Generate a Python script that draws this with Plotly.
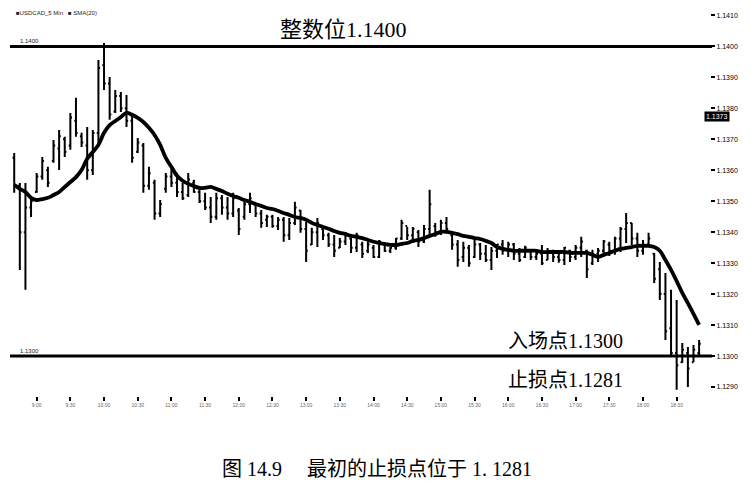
import plotly.graph_objects as go

# 5分钟K线，每根K线一组 开/高/低/收
opens = [1.1364, 1.1355, 1.1340, 1.1348, 1.1353, 1.1358, 1.1360, 1.1363, 1.1367, 1.1370,
         1.1368, 1.1376, 1.1371, 1.1368, 1.1360, 1.1372, 1.1394, 1.1388, 1.1379, 1.1384,
         1.1380, 1.1376, 1.1366, 1.1368, 1.1355, 1.1356, 1.1346, 1.1354, 1.1358, 1.1356,
         1.1353, 1.1352, 1.1356, 1.1353, 1.1350, 1.1348, 1.1345, 1.1351, 1.1348, 1.1346,
         1.1347, 1.1345, 1.1349, 1.1349, 1.1346, 1.1344, 1.1345, 1.1342, 1.1344, 1.1339,
         1.1343, 1.1347, 1.1341, 1.1336, 1.1340, 1.1341, 1.1339, 1.1336, 1.1335, 1.1337,
         1.1338, 1.1335, 1.1336, 1.1334, 1.1335, 1.1332, 1.1336, 1.1334, 1.1335, 1.1338,
         1.1342, 1.1339, 1.1340, 1.1337, 1.1341, 1.1342, 1.1340, 1.1343, 1.1339, 1.1336,
         1.1332, 1.1335, 1.1332, 1.1336, 1.1333, 1.1331, 1.1334, 1.1336, 1.1334, 1.1336,
         1.1333, 1.1332, 1.1334, 1.1332, 1.1333, 1.1331, 1.1334, 1.1332, 1.1331, 1.1334,
         1.1332, 1.1335, 1.1334, 1.1330, 1.1333, 1.1334, 1.1336, 1.1334, 1.1338, 1.1341,
         1.1343, 1.1338, 1.1334, 1.1336, 1.1333, 1.1328, 1.1320, 1.1309, 1.1301, 1.1298,
         1.1301, 1.1298, 1.1301]
highs = [1.13656, 1.13559, 1.13559, 1.13514, 1.13591, 1.13643, 1.13611, 1.13698, 1.13730, 1.13708,
         1.13785, 1.13834, 1.13721, 1.13740, 1.13730, 1.13956, 1.14011, 1.13901, 1.13859, 1.13853,
         1.13843, 1.13785, 1.13704, 1.13688, 1.13611, 1.13569, 1.13504, 1.13591, 1.13611, 1.13591,
         1.13559, 1.13591, 1.13569, 1.13546, 1.13527, 1.13514, 1.13527, 1.13520, 1.13514, 1.13527,
         1.13478, 1.13504, 1.13527, 1.13494, 1.13472, 1.13456, 1.13456, 1.13449, 1.13449, 1.13446,
         1.13498, 1.13472, 1.13433, 1.13414, 1.13446, 1.13414, 1.13398, 1.13391, 1.13381, 1.13401,
         1.13381, 1.13398, 1.13369, 1.13369, 1.13359, 1.13375, 1.13362, 1.13352, 1.13381, 1.13440,
         1.13417, 1.13417, 1.13407, 1.13423, 1.13537, 1.13430, 1.13440, 1.13449, 1.13398, 1.13375,
         1.13369, 1.13359, 1.13375, 1.13365, 1.13359, 1.13352, 1.13362, 1.13375, 1.13369, 1.13365,
         1.13349, 1.13356, 1.13343, 1.13336, 1.13359, 1.13349, 1.13343, 1.13336, 1.13352, 1.13343,
         1.13359, 1.13385, 1.13343, 1.13343, 1.13349, 1.13375, 1.13369, 1.13385, 1.13417, 1.13462,
         1.13430, 1.13398, 1.13375, 1.13398, 1.13333, 1.13304, 1.13268, 1.13214, 1.13181, 1.13042,
         1.13029, 1.13036, 1.13052]
lows = [1.13527, 1.13278, 1.13214, 1.13449, 1.13527, 1.13569, 1.13546, 1.13624, 1.13601, 1.13643,
        1.13666, 1.13708, 1.13675, 1.13569, 1.13585, 1.13675, 1.13859, 1.13763, 1.13785, 1.13788,
        1.13740, 1.13624, 1.13656, 1.13527, 1.13537, 1.13440, 1.13449, 1.13527, 1.13546, 1.13514,
        1.13504, 1.13514, 1.13527, 1.13494, 1.13472, 1.13430, 1.13440, 1.13456, 1.13440, 1.13449,
        1.13391, 1.13440, 1.13462, 1.13449, 1.13414, 1.13417, 1.13414, 1.13407, 1.13369, 1.13375,
        1.13423, 1.13398, 1.13304, 1.13359, 1.13352, 1.13375, 1.13352, 1.13320, 1.13349, 1.13359,
        1.13333, 1.13336, 1.13317, 1.13333, 1.13317, 1.13317, 1.13336, 1.13333, 1.13343, 1.13375,
        1.13375, 1.13365, 1.13352, 1.13365, 1.13385, 1.13385, 1.13391, 1.13398, 1.13343, 1.13288,
        1.13304, 1.13288, 1.13317, 1.13310, 1.13304, 1.13278, 1.13317, 1.13327, 1.13320, 1.13310,
        1.13304, 1.13317, 1.13310, 1.13310, 1.13294, 1.13310, 1.13304, 1.13301, 1.13294, 1.13304,
        1.13310, 1.13320, 1.13252, 1.13294, 1.13304, 1.13320, 1.13323, 1.13327, 1.13336, 1.13365,
        1.13359, 1.13320, 1.13327, 1.13352, 1.13236, 1.13181, 1.13052, 1.12997, 1.12891, 1.12978,
        1.12900, 1.12981, 1.12997]
closes = [1.1355, 1.1340, 1.1348, 1.1350, 1.1358, 1.1363, 1.1356, 1.1368, 1.1371, 1.1366,
          1.1377, 1.1372, 1.1369, 1.1360, 1.1372, 1.1393, 1.1388, 1.1378, 1.1384, 1.1380,
          1.1376, 1.1364, 1.1369, 1.1355, 1.1359, 1.1346, 1.1349, 1.1358, 1.1356, 1.1353,
          1.1351, 1.1357, 1.1353, 1.1350, 1.1348, 1.1345, 1.1351, 1.1348, 1.1346, 1.1351,
          1.1341, 1.1349, 1.1351, 1.1346, 1.1343, 1.1345, 1.1342, 1.1344, 1.1339, 1.1343,
          1.1348, 1.1341, 1.1334, 1.1340, 1.1343, 1.1339, 1.1336, 1.1334, 1.1337, 1.1339,
          1.1335, 1.1339, 1.1333, 1.1336, 1.1332, 1.1337, 1.1334, 1.1335, 1.1338, 1.1343,
          1.1339, 1.1341, 1.1337, 1.1341, 1.1349, 1.1340, 1.1343, 1.1341, 1.1336, 1.1331,
          1.1335, 1.1330, 1.1336, 1.1333, 1.1331, 1.1334, 1.1336, 1.1334, 1.1336, 1.1333,
          1.1331, 1.1335, 1.1332, 1.1333, 1.1330, 1.1334, 1.1332, 1.1331, 1.1335, 1.1332,
          1.1335, 1.1337, 1.1328, 1.1333, 1.1334, 1.1337, 1.1334, 1.1338, 1.1341, 1.1343,
          1.1338, 1.1334, 1.1336, 1.1338, 1.1325, 1.1320, 1.1308, 1.1301, 1.1297, 1.1302,
          1.1296, 1.1302, 1.1304]
# SMA(20)
sma20 = [1.13553, 1.13540, 1.13530, 1.13511, 1.13504, 1.13507, 1.13511, 1.13520, 1.13530, 1.13546,
         1.13562, 1.13578, 1.13601, 1.13637, 1.13659, 1.13682, 1.13721, 1.13746, 1.13759, 1.13772,
         1.13785, 1.13779, 1.13769, 1.13756, 1.13737, 1.13714, 1.13682, 1.13640, 1.13611, 1.13582,
         1.13566, 1.13556, 1.13549, 1.13543, 1.13543, 1.13546, 1.13540, 1.13533, 1.13524, 1.13517,
         1.13511, 1.13504, 1.13498, 1.13491, 1.13485, 1.13478, 1.13475, 1.13469, 1.13462, 1.13456,
         1.13449, 1.13446, 1.13440, 1.13430, 1.13423, 1.13417, 1.13411, 1.13404, 1.13398, 1.13394,
         1.13388, 1.13385, 1.13381, 1.13375, 1.13369, 1.13365, 1.13362, 1.13359, 1.13359, 1.13362,
         1.13365, 1.13372, 1.13375, 1.13381, 1.13388, 1.13394, 1.13401, 1.13401, 1.13398, 1.13394,
         1.13388, 1.13385, 1.13381, 1.13378, 1.13372, 1.13365, 1.13352, 1.13346, 1.13343, 1.13340,
         1.13340, 1.13340, 1.13340, 1.13340, 1.13336, 1.13336, 1.13336, 1.13336, 1.13336, 1.13333,
         1.13333, 1.13333, 1.13333, 1.13327, 1.13320, 1.13327, 1.13333, 1.13340, 1.13346, 1.13349,
         1.13352, 1.13356, 1.13356, 1.13356, 1.13352, 1.13340, 1.13310, 1.13278, 1.13242, 1.13204,
         1.13171, 1.13136, 1.13101]
bars = list(range(len(closes)))

# 横轴时间刻度（原图字太小，看不清）
time_ticks = [4, 10, 16, 22, 28, 34, 40, 46, 52, 58, 64, 70, 76, 82, 88, 94, 100, 106, 112, 118]
time_labels = ["9:00", "9:30", "10:00", "10:30", "11:00", "11:30", "12:00", "12:30", "13:00", "13:30",
               "14:00", "14:30", "15:00", "15:30", "16:00", "16:30", "17:00", "17:30", "18:00", "18:30"]
price_ticks = [1.1290, 1.1300, 1.1310, 1.1320, 1.1330, 1.1340, 1.1350,
               1.1360, 1.1370, 1.1380, 1.1390, 1.1400, 1.1410]
round_level = 1.1400
entry_level = 1.1300
stop_level = 1.1281

cjk = "Liberation Serif, Noto Sans CJK SC"

fig = go.Figure()
fig.add_trace(go.Ohlc(x=bars, open=opens, high=highs, low=lows, close=closes,
                      increasing_line_color="black", decreasing_line_color="black",
                      line_width=2, tickwidth=0.3, showlegend=False, hoverinfo="skip"))
fig.add_trace(go.Scatter(x=bars, y=sma20, mode="lines", line=dict(color="black", width=3.8, shape="spline"),
                         showlegend=False, hoverinfo="skip"))

for lvl in [round_level, entry_level]:
    fig.add_shape(type="line", xref="paper", x0=0, x1=1.003, y0=lvl, y1=lvl,
                  line=dict(color="black", width=3))

fig.add_annotation(xref="paper", x=0.476, xanchor="center", y=round_level, yanchor="bottom", yshift=2,
                   text="整数位1.1400", showarrow=False, font=dict(family=cjk, size=22, color="black"))
fig.add_annotation(xref="paper", x=0.794, xanchor="center", y=entry_level, yanchor="bottom", yshift=2,
                   text="入场点1.1300", showarrow=False, font=dict(family=cjk, size=20, color="black"))
# 止损价位在坐标下限之外，文字放在入场线下方
fig.add_annotation(xref="paper", yref="paper", x=0.794, xanchor="center", y=0.041, yanchor="middle",
                   text=f"止损点{stop_level:.4f}", showarrow=False, font=dict(family=cjk, size=20, color="black"))

# 左上角图例、左侧价位小字、右侧当前价格框
fig.add_annotation(xref="paper", yref="paper", x=0.005, y=1.0, xanchor="left", yanchor="top",
                   text="■USDCAD_5 Min   ■ SMA(20)", showarrow=False, font=dict(size=6, color="#222"))
fig.add_annotation(xref="paper", x=0.012, y=round_level, xanchor="left", yanchor="bottom",
                   text="1.1400", showarrow=False, font=dict(size=6, color="#222"))
fig.add_annotation(xref="paper", x=0.012, y=entry_level, xanchor="left", yanchor="bottom",
                   text="1.1300", showarrow=False, font=dict(size=6, color="#222"))
fig.add_annotation(xref="paper", x=1.0, y=1.13775, xanchor="left", xshift=-6,
                   text="1.1373", showarrow=False, bgcolor="black", borderpad=1,
                   font=dict(size=7, color="white"))

# 图题
fig.add_annotation(xref="paper", yref="paper", x=0.524, xanchor="center", y=0, yanchor="middle", yshift=-73,
                   text="图 14.9     最初的止损点位于 1. 1281", showarrow=False,
                   font=dict(family=cjk, size=20, color="black"))

# 页面自带 8px 边距，图的尺寸相应缩小
fig.update_layout(
    width=743, height=476,
    margin=dict(l=2, r=41, t=0, b=88),
    paper_bgcolor="white", plot_bgcolor="white",
    font=dict(family="Liberation Sans, Arial", color="black"),
    xaxis=dict(range=[-0.75, 123.94], rangeslider=dict(visible=False), showgrid=False, zeroline=False,
               showline=False, tickmode="array", tickvals=time_ticks, ticktext=time_labels,
               ticks="outside", ticklen=4, tickwidth=1.5, tickcolor="black",
               tickfont=dict(size=5, color="#666")),
    yaxis=dict(range=[1.12871, 1.14124], side="right", showgrid=False, zeroline=False, showline=False,
               tickmode="array", tickvals=price_ticks, ticktext=[f"{v:.4f}" for v in price_ticks],
               ticks="outside", ticklen=4, tickwidth=1.5, tickcolor="black",
               tickfont=dict(size=7, color="black")),
)

fig.write_html("out.html")
